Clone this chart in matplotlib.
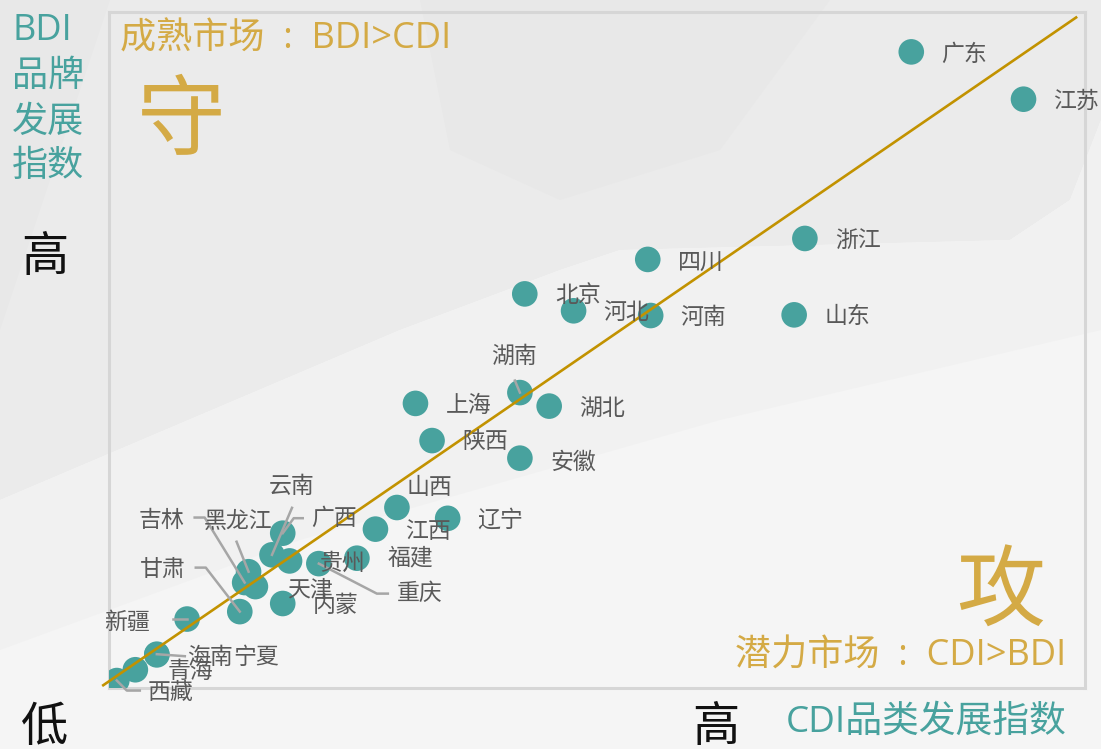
import numpy as np
import matplotlib
matplotlib.use('Agg')
import matplotlib.pyplot as plt
from matplotlib.patches import Polygon
from matplotlib.lines import Line2D

plt.rcParams['font.family'] = ['Noto Sans CJK SC', 'DejaVu Sans']

# CDI (x) / BDI (y) on a 0-100 scale
provinces = ['广东', '江苏', '浙江', '四川', '山东', '河南', '北京', '河北',
             '湖南', '湖北', '上海', '陕西', '安徽', '山西', '辽宁', '江西',
             '福建', '重庆', '贵州', '广西', '云南', '黑龙江', '吉林', '天津',
             '甘肃', '内蒙', '新疆', '宁夏', '海南', '青海', '西藏']
cdi = [82.2, 93.7, 71.3, 55.2, 70.2, 55.5, 42.6, 47.6,
       42.1, 45.1, 31.4, 33.1, 42.1, 29.5, 34.7, 27.3,
       25.4, 21.5, 18.5, 17.8, 16.7, 14.3, 13.9, 15.0,
       13.4, 17.8, 8.0, 4.9, 4.9, 2.7, 0.8]
bdi = [94.1, 87.1, 66.5, 63.4, 55.2, 55.1, 58.3, 55.8,
       43.7, 41.7, 42.1, 36.6, 34.0, 26.7, 25.1, 23.5,
       19.2, 18.4, 18.8, 22.9, 19.7, 17.2, 15.6, 15.0,
       11.3, 12.5, 10.2, 4.9, 5.0, 2.7, 1.1]

# label placement in pixels (dx right, dy down), plus optional leader lines
default_off = (30, 2)
label_pos = {
    '安徽': (30, 4), '四川': (30, 4), '天津': (32, 4), '福建': (31, 0),
    '山西': (10, -20),
    '湖南': (-6, -36, 'center'),
    '云南': (20, -68, 'center'),
    '广西': (28, -15),
    '黑龙江': (-11, -50, 'center'),
    '吉林': (-60, -62, 'right'),
    '甘肃': (-54, -42, 'right'),
    '新疆': (-37, 3, 'right'),
    '重庆': (78, 30),
    '海南': (30, 3),
    '宁夏': (76, 3),
    '青海': (32, 2),
    '西藏': (31, 12),
}
leaders = {
    '湖南': [(0, 0), (-5, -12)],
    '云南': [(0, 0), (20, -47)],
    '广西': [(0, 0), (11, -15), (20, -15)],
    '黑龙江': [(0, 0), (-12, -30)],
    '吉林': [(0, 0), (-40, -65), (-50, -65)],
    '甘肃': [(0, 0), (-34, -44), (-44, -44)],
    '新疆': [(0, 0), (-14, 0)],
    '重庆': [(0, 0), (58, 30), (69, 30)],
    '海南': [(0, 0), (28, 2)],
    '西藏': [(0, 0), (10, 10), (23, 10)],
}

W, H = 1101, 749
teal = '#48A29E'
gold = '#D4AA45'
latin = ['Open Sans', 'Noto Sans CJK SC', 'DejaVu Sans']

fig = plt.figure(figsize=(W / 100, H / 100), dpi=100)
fig.patch.set_facecolor('#F5F5F5')


def bg(pts, color):
    xy = [(x / W, 1 - y / H) for x, y in pts]
    fig.add_artist(Polygon(xy, closed=True, transform=fig.transFigure,
                           facecolor=color, edgecolor='none', zorder=-10))


# soft low-poly background
bg([(0, 0), (1101, 0), (1101, 120), (1070, 200), (1010, 240), (620, 250),
    (560, 270), (400, 330), (0, 500)], '#EBEBEB')
bg([(420, 0), (830, 0), (720, 150), (560, 200), (450, 150)], '#E8E8E8')
bg([(0, 500), (400, 330), (560, 270), (620, 250), (1010, 240), (1070, 200),
    (1101, 120), (1101, 330), (720, 420), (300, 540), (0, 650)], '#F1F1F1')
bg([(0, 0), (110, 0), (0, 330)], '#E8E8E8')

ax = fig.add_axes([109 / W, (H - 688) / H, (1085 - 109) / W, (688 - 12) / H])
ax.set_facecolor('none')
ax.set_xlim(0, 100)
ax.set_ylim(0, 100)
ax.set_xticks([])
ax.set_yticks([])
for s in ax.spines.values():
    s.set_color('#D6D6D6')
    s.set_linewidth(2.2)

ax.scatter(cdi, bdi, s=340, color=teal, edgecolors='none', zorder=3)
ax.plot([-0.7, 99.2], [0.3, 99.3], color='#C29200', lw=1.9, zorder=4,
        clip_on=False, solid_capstyle='butt')

to_data = ax.transData.inverted()
for name, x, y in zip(provinces, cdi, bdi):
    spec = label_pos.get(name, default_off)
    dx, dy = spec[0], spec[1]
    ha = spec[2] if len(spec) > 2 else 'left'
    px, py = ax.transData.transform((x, y))
    if name in leaders:
        pts = to_data.transform([(px + a, py - b) for a, b in leaders[name]])
        ax.add_line(Line2D(pts[:, 0], pts[:, 1], color='#A6A6A6', lw=1.8,
                           zorder=5, clip_on=False))
    ax.annotate(name, xy=(x, y), xytext=(dx, -dy), textcoords='offset pixels',
                ha=ha, va='center', fontsize=16.5, color='#595959', zorder=6,
                annotation_clip=False)

# quadrant captions
fig.text(120 / W, 1 - 40 / H, '成熟市场  :  BDI>CDI', color=gold, fontsize=26,
         ha='left', va='center', family=latin)
fig.text(181 / W, 1 - 124 / H, '守', color=gold, fontsize=64, ha='center', va='center')
fig.text(1001 / W, 1 - 594 / H, '攻', color=gold, fontsize=64, ha='center', va='center')
fig.text(1066 / W, 1 - 657 / H, '潜力市场  :  CDI>BDI', color=gold, fontsize=26,
         ha='right', va='center', family=latin)

# axis captions
for txt, yc in zip(['BDI', '品牌', '发展', '指数'], [31, 77, 123, 167]):
    fig.text(12 / W, 1 - yc / H, txt, color=teal, fontsize=26, ha='left',
             va='center', family=latin)
fig.text(45 / W, 1 - 258 / H, '高', color='#111111', fontsize=34, ha='center',
         va='center', fontweight='light')
fig.text(45 / W, 1 - 728 / H, '低', color='#111111', fontsize=34, ha='center',
         va='center', fontweight='light')
fig.text(716 / W, 1 - 728 / H, '高', color='#111111', fontsize=34, ha='center',
         va='center', fontweight='light')
fig.text(1067 / W, 1 - 723 / H, 'CDI品类发展指数', color=teal, fontsize=26.5,
         ha='right', va='center', family=latin)

fig.savefig('out.png', dpi=100, facecolor=fig.get_facecolor())
